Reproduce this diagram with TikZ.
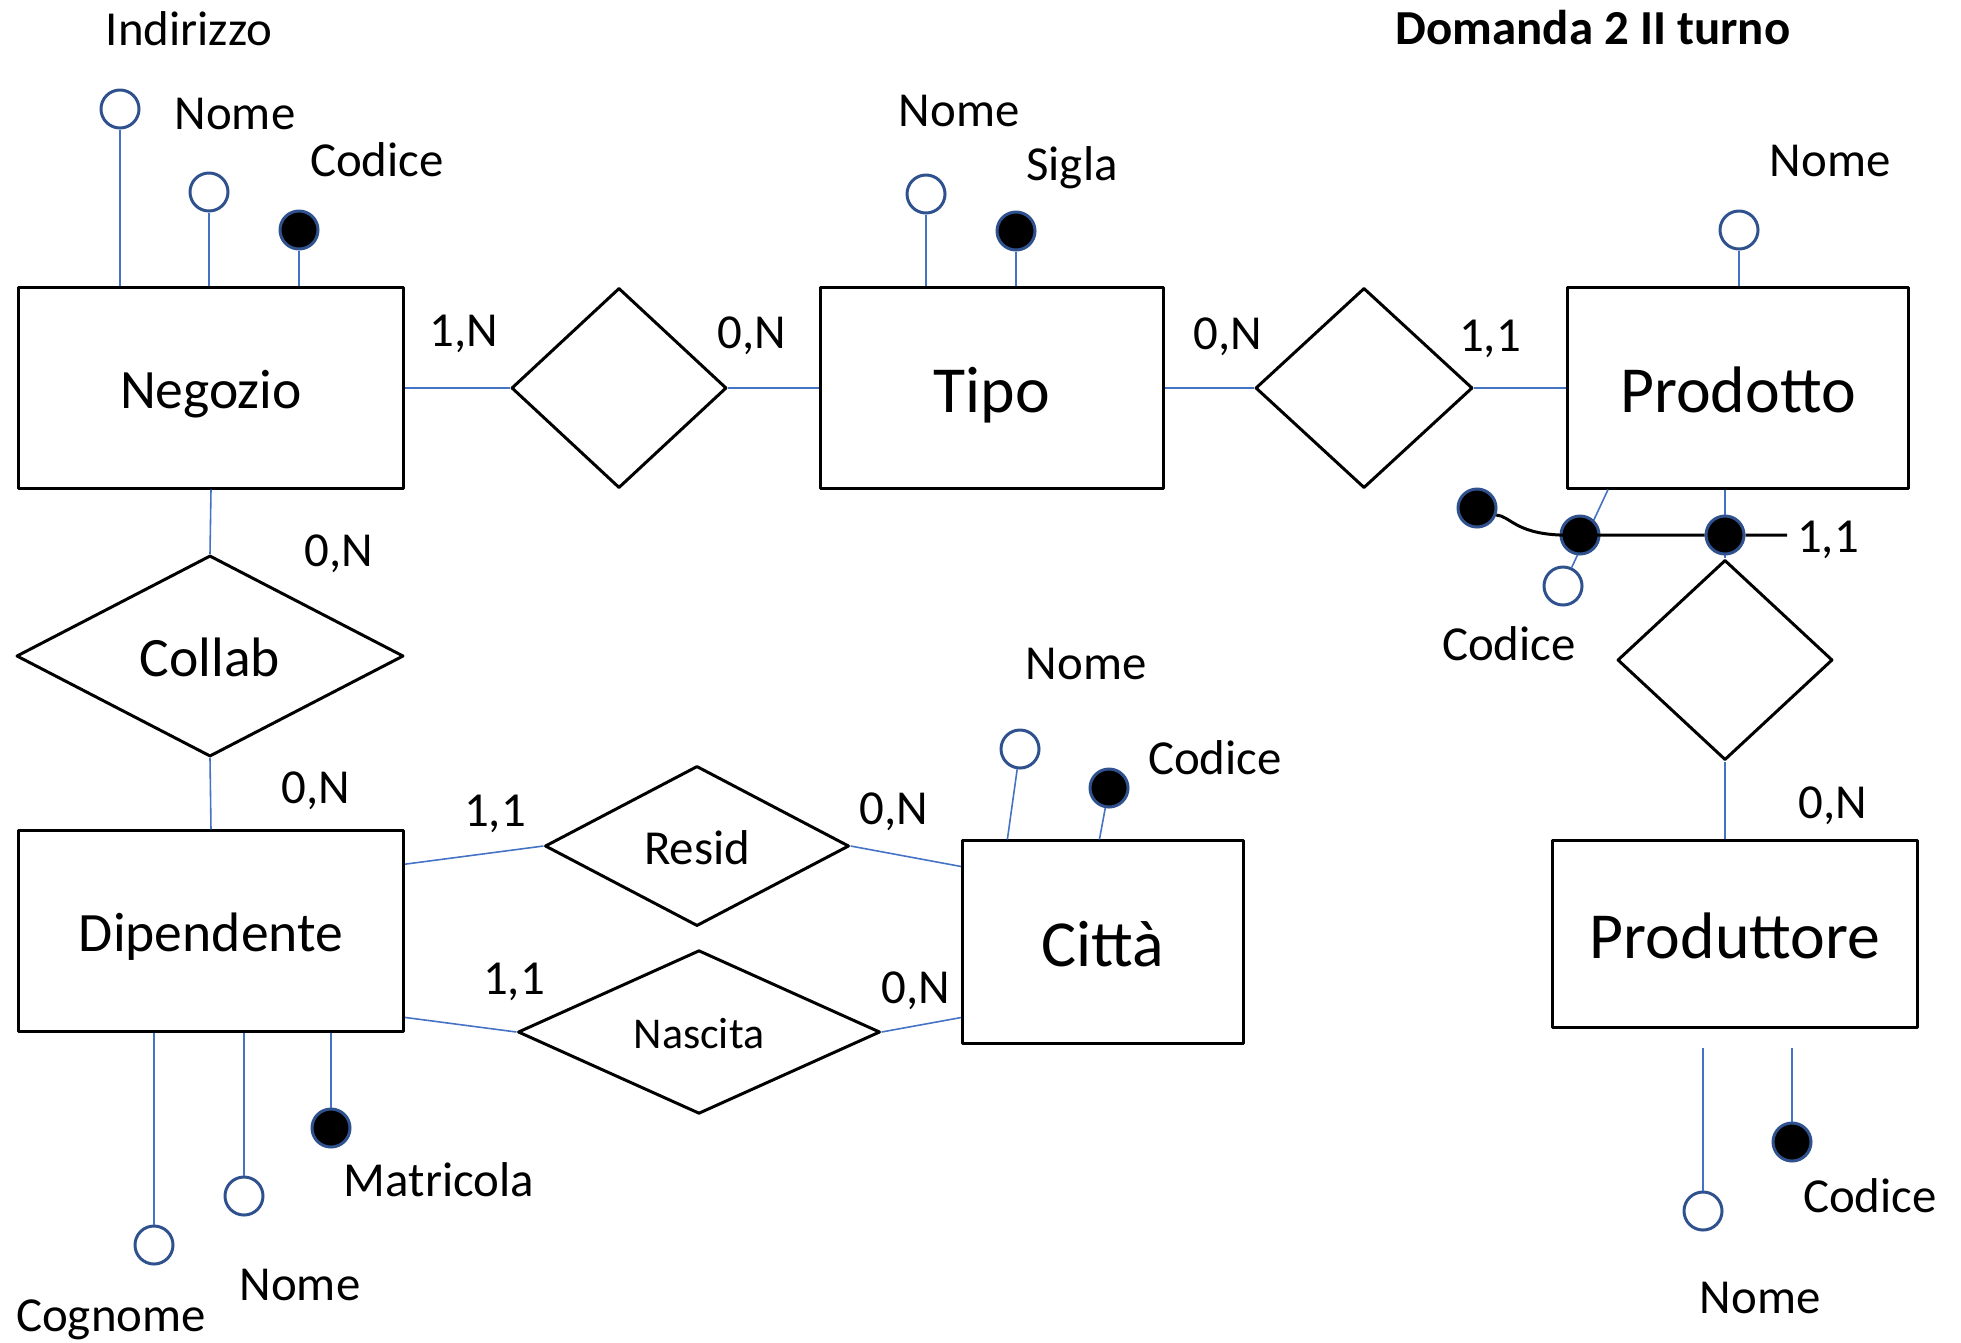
\documentclass[tikz,border=0pt]{standalone}
\usepackage{fontspec}
\setmainfont{Carlito}
\usetikzlibrary{shapes.geometric}
\definecolor{lblu}{HTML}{4472C4}
\definecolor{cblu}{HTML}{2F528F}
\begin{document}
\begin{tikzpicture}[x=0.01cm,y=-0.01cm,line join=round,
	ent/.style={draw,line width=0.85pt,minimum height=2cm,inner sep=0pt,text height=11.85pt,text depth=0pt,font=\fontsize{15.8}{18}\selectfont},
	big/.style={text height=14pt,font=\fontsize{18.7}{22}\selectfont},
	rel/.style={diamond,draw,line width=0.85pt,inner sep=0pt,text height=10.4pt,text depth=0pt,font=\fontsize{13.9}{16}\selectfont},
	attr/.style={circle,draw=cblu,line width=0.85pt,fill=white,minimum size=0.38cm,inner sep=0pt},
	key/.style={attr,fill=black},
	lnk/.style={draw=lblu,line width=0.45pt},
	lab/.style={anchor=base,inner sep=0pt,font=\fontsize{13.9}{16}\selectfont}]
	\useasboundingbox (0,0) rectangle (1961,1342);
	% entita
	\node[ent,minimum width=3.85cm] (neg) at (211,388) {Negozio};
	\node[ent,big,minimum width=3.42cm] (tipo) at (992,388) {Tipo};
	\node[ent,big,minimum width=3.41cm] (prod) at (1738,388) {Prodotto};
	\node[ent,minimum width=3.85cm] (dip) at (211,931) {Dipendente};
	\node[ent,big,minimum width=2.81cm,minimum height=2.02cm] (citta) at (1103,942) {Città};
	\node[ent,big,minimum width=3.65cm,minimum height=1.87cm] (prdt) at (1735,934) {Produttore};
	% relazioni
	\node[rel,minimum width=2.15cm,minimum height=2cm] (r1) at (619,388) {};
	\node[rel,minimum width=2.17cm,minimum height=2cm] (r2) at (1364,388) {};
	\node[rel,minimum width=3.87cm,minimum height=2.01cm,text height=11.85pt,font=\fontsize{15.8}{18}\selectfont] (collab) at (210,656) {Collab};
	\node[rel,minimum width=3.04cm,minimum height=1.6cm] (resid) at (697,846) {Resid};
	\node[rel,minimum width=3.62cm,minimum height=1.58cm,text height=9.4pt,font=\fontsize{12.5}{15}\selectfont] (nascita) at (699,1032) {Nascita};
	\node[rel,minimum width=2.15cm,minimum height=2cm] (r3) at (1725,660) {};
	% attributi
	\node[attr] (nind) at (120,109) {};
	\node[attr] (nnom) at (209,192) {};
	\node[key] (ncod) at (299,230) {};
	\node[attr] (tnom) at (926,194) {};
	\node[key] (tsig) at (1016,231) {};
	\node[attr] (pnom) at (1739,230) {};
	\node[attr] (pcod) at (1563,586) {};
	\node[attr] (cnom) at (1020,749) {};
	\node[key] (ccod) at (1109,788) {};
	\node[attr] (dcog) at (154,1245) {};
	\node[attr] (dnom) at (244,1196) {};
	\node[key] (dmat) at (331,1128) {};
	\node[attr] (rnom) at (1703,1211) {};
	\node[key] (rcod) at (1792,1142) {};
	% collegamenti
	\draw[lnk] (neg.east) -- (r1.west);
	\draw[lnk] (r1.east) -- (tipo.west);
	\draw[lnk] (tipo.east) -- (r2.west);
	\draw[lnk] (r2.east) -- (prod.west);
	\draw[lnk] (neg.south) -- (collab.north);
	\draw[lnk] (collab.south) -- (dip.north);
	\draw[lnk] (dip.19) -- (resid.west);
	\draw[lnk] (resid.east) -- (citta.152);
	\draw[lnk] (dip.-24) -- (nascita.west);
	\draw[lnk] (nascita.east) -- (citta.208);
	\draw[lnk] (r3.north |- prod.south) -- (r3.north);
	\draw[lnk] (r3.south) -- (r3.south |- prdt.north);
	\draw[lnk] (nind) -- (nind |- neg.north);
	\draw[lnk] (nnom) -- (nnom |- neg.north);
	\draw[lnk] (ncod) -- (ncod |- neg.north);
	\draw[lnk] (tnom) -- (tnom |- tipo.north);
	\draw[lnk] (tsig) -- (tsig |- tipo.north);
	\draw[lnk] (pnom) -- (pnom |- prod.north);
	\draw[lnk] (prod.218) -- (pcod);
	\draw[lnk] (cnom) -- (citta.133);
	\draw[lnk] (ccod) -- (citta.92);
	\draw[lnk] (dcog) -- (dcog |- dip.south);
	\draw[lnk] (dnom) -- (dnom |- dip.south);
	\draw[lnk] (dmat) -- (dmat |- dip.south);
	\draw[lnk,shorten >=0.19cm] (rnom) -- (rnom |- prdt.south);
	\draw[lnk,shorten >=0.19cm] (rcod) -- (rcod |- prdt.south);
	% identificatore esterno di Prodotto
	\node[key] (pk1) at (1477,508) {};
	\node[key] (pk2) at (1580,535) {};
	\node[key] (pk3) at (1725,535) {};
	\coordinate (pkend) at (1787,535);
	\draw[line width=0.85pt] (pk1.-20) .. controls (1510,516) and (1515,533) .. (pk2.west) -- (pk3) -- (pkend);
	% etichette
	\node[lab] (lind) at (189,45) {Indirizzo};
	\node[lab] (lnnom) at (235,129) {Nome};
	\node[lab] (lncod) at (377,176) {Codice};
	\node[lab] (ltnom) at (959,126) {Nome};
	\node[lab] (ltsig) at (1072,180) {Sigla};
	\node[lab] (lpnom) at (1830,176) {Nome};
	\node[lab] (lpcod) at (1509,660) {Codice};
	\node[lab] (lcnom) at (1086,679) {Nome};
	\node[lab] (lccod) at (1215,774) {Codice};
	\node[lab] (ldmat) at (439,1196) {Matricola};
	\node[lab] (ldnom) at (300,1300) {Nome};
	\node[lab] (ldcog) at (111,1331) {Cognome};
	\node[lab] (lrcod) at (1870,1212) {Codice};
	\node[lab] (lrnom) at (1760,1313) {Nome};
	\node[lab,font=\fontsize{13.9}{16}\selectfont\bfseries] (titolo) at (1593,44) {Domanda 2 II turno};
	% cardinalita
	\node[lab] (c1) at (464,346) {1,N};
	\node[lab] (c2) at (752,348) {0,N};
	\node[lab] (c3) at (1228,349) {0,N};
	\node[lab] (c4) at (1490,351) {1,1};
	\node[lab] (c5) at (339,566) {0,N};
	\node[lab] (c6) at (316,803) {0,N};
	\node[lab] (c7) at (495,826) {1,1};
	\node[lab] (c8) at (894,824) {0,N};
	\node[lab] (c9) at (514,994) {1,1};
	\node[lab] (c10) at (916,1003) {0,N};
	\node[lab] (c11) at (1828,552) {1,1};
	\node[lab] (c12) at (1833,818) {0,N};
\end{tikzpicture}
\end{document}
